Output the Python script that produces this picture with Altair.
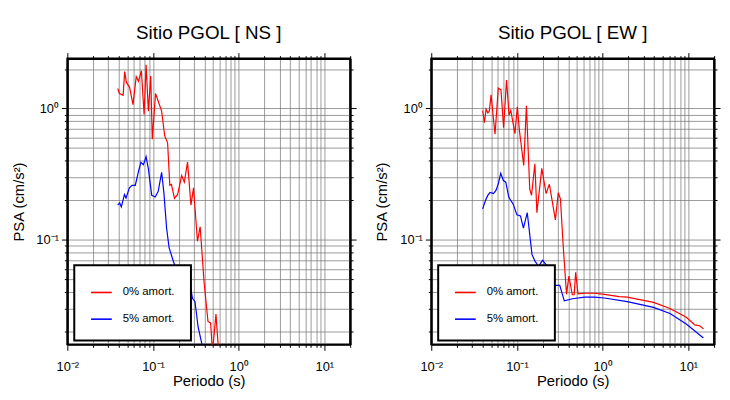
import altair as alt
import pandas as pd

# ---------------- data ----------------
series_names = ["0% amort.", "5% amort."]

ns_t0 = [0.0387, 0.0406, 0.0448, 0.0467, 0.0489, 0.0533, 0.0584, 0.0637, 0.0676, 0.0732,
         0.0787, 0.083, 0.0883, 0.094, 0.0981, 0.107, 0.126, 0.137, 0.148, 0.157,
         0.164, 0.178, 0.194, 0.216, 0.232, 0.253, 0.277, 0.297, 0.330, 0.355,
         0.394, 0.438, 0.470, 0.495, 0.543, 0.593]
ns_a0 = [1.42, 1.30, 1.26, 1.91, 1.58, 1.45, 1.07, 1.75, 1.61, 1.94,
         0.90, 2.15, 0.955, 1.77, 0.584, 1.30, 0.955, 0.618, 0.548, 0.260,
         0.264, 0.207, 0.222, 0.309, 0.275, 0.391, 0.184, 0.249, 0.0975, 0.126,
         0.048, 0.0239, 0.0233, 0.014, 0.0272, 0.012]

ns_t5 = [0.0387, 0.0408, 0.0427, 0.0464, 0.0484, 0.0529, 0.0568, 0.0621, 0.0678, 0.0722,
         0.0773, 0.083, 0.0883, 0.0966, 0.106, 0.115, 0.126, 0.134, 0.144, 0.154,
         0.168, 0.186, 0.216, 0.236, 0.253, 0.289, 0.309, 0.336, 0.371, 0.39]
ns_a5 = [0.184, 0.191, 0.178, 0.221, 0.208, 0.248, 0.260, 0.260, 0.333, 0.389,
         0.374, 0.430, 0.347, 0.218, 0.212, 0.234, 0.327, 0.228, 0.123, 0.0871,
         0.0728, 0.0594, 0.0474, 0.0637, 0.0577, 0.0359, 0.0338, 0.0217, 0.0162, 0.013]

ew_t0 = [0.0398, 0.0418, 0.0436, 0.0457, 0.0476, 0.0499, 0.0555, 0.0606, 0.0651, 0.0699,
         0.0756, 0.0809, 0.0847, 0.0948, 0.101, 0.107, 0.120, 0.129, 0.141, 0.148,
         0.162, 0.171, 0.195, 0.219, 0.239, 0.281, 0.304, 0.322, 0.347, 0.379,
         0.404, 0.443, 0.465, 0.485, 0.516, 0.617, 0.80, 1.05, 1.56, 1.94,
         3.93, 6.11, 9.48, 11.9, 13.5, 15.1]
ew_a0 = [0.966, 0.779, 0.99, 0.927, 0.954, 1.27, 0.637, 1.43, 1.39, 0.714,
         1.65, 0.891, 0.966, 0.644, 1.03, 0.675, 0.368, 1.05, 0.244, 0.218,
         0.380, 0.161, 0.35, 0.225, 0.265, 0.142, 0.229, 0.204, 0.0891, 0.0385,
         0.0529, 0.0382, 0.0382, 0.0567, 0.0388, 0.0392, 0.0392, 0.0385, 0.0370, 0.0366,
         0.0334, 0.0300, 0.0257, 0.0225, 0.0222, 0.0210]

ew_t5 = [0.0398, 0.0430, 0.0457, 0.0485, 0.0532, 0.0569, 0.0606, 0.0646, 0.0695, 0.0741,
         0.0804, 0.0904, 0.100, 0.110, 0.119, 0.132, 0.150, 0.163, 0.179, 0.199,
         0.223, 0.255, 0.278, 0.316, 0.357, 0.446, 0.617, 0.80, 1.05, 1.94,
         3.93, 6.11, 9.48, 15.0]
ew_a5 = [0.172, 0.200, 0.218, 0.230, 0.225, 0.238, 0.267, 0.321, 0.283, 0.275,
         0.211, 0.187, 0.155, 0.152, 0.123, 0.161, 0.0771, 0.0686, 0.0629, 0.0698,
         0.0637, 0.0514, 0.0450, 0.0450, 0.0343, 0.0356, 0.0366, 0.0366, 0.0361, 0.0339,
         0.0306, 0.0275, 0.0229, 0.0179]

x_domain = [0.01, 20]
y_domain = [0.016, 2.4]
x_ticks = [d * k for d in [0.01, 0.1, 1, 10] for k in range(1, 10) if d * k <= 20.0001]
y_ticks = [d * k for d in [0.01, 0.1, 1] for k in range(1, 10) if 0.016 <= d * k <= 2.4]

FONT = "Liberation Sans"
IS_DECADE = "abs(log(datum.value)/LN10 - round(log(datum.value)/LN10)) < 0.001"
EXP = "round(log(datum.value)/LN10)"
LABEL_EXPR = (f"{IS_DECADE} ? '10' + ({EXP} == -2 ? '⁻²' : {EXP} == -1 ? '⁻¹' : "
              f"{EXP} == 0 ? '⁰' : {EXP} == 1 ? '¹' : '') : ''")
TICK_SIZE = {"condition": {"test": IS_DECADE, "value": 6}, "value": 3}


def frame(df, title):
    xs = alt.Scale(type="log", domain=x_domain, nice=False)
    ys = alt.Scale(type="log", domain=y_domain, nice=False)
    base = dict(domain=True, domainColor="black", domainWidth=2,
                tickColor="black", tickWidth=1, tickSize=TICK_SIZE,
                titleFont=FONT, titleFontSize=15, titleFontWeight="normal",
                titleColor="black", gridColor="#6f6f6f", gridWidth=0.7)
    lab = dict(labelFont=FONT, labelFontSize=13, labelColor="black",
               labelOverlap=False, labelFlush=False, labelExpr=LABEL_EXPR)
    lines = alt.Chart(df).mark_line(clip=True, strokeWidth=1.2).encode(
        x=alt.X("T:Q", scale=xs, axis=alt.Axis(values=x_ticks, title="Periodo (s)",
                                               grid=True, labelPadding=10, titlePadding=1,
                                               **base, **lab)),
        y=alt.Y("A:Q", scale=ys, axis=alt.Axis(values=y_ticks, title="PSA (cm/s²)",
                                               grid=True, labelPadding=3, titlePadding=10,
                                               **base, **lab)),
        color=alt.Color("serie:N",
                        scale=alt.Scale(domain=series_names, range=["#ff0000", "#0000ff"]),
                        legend=alt.Legend(title=None, orient="none", legendX=7, legendY=209,
                                          fillColor="white", strokeColor="black",
                                          padding=16, rowPadding=10,
                                          symbolType="stroke", symbolSize=440,
                                          symbolStrokeWidth=1.6, labelOffset=10,
                                          labelFont=FONT, labelFontSize=11.5,
                                          labelColor="black")),
    )
    ghost = alt.Chart(df).mark_line(opacity=0).encode(
        x=alt.X("T:Q", scale=xs, axis=alt.Axis(values=x_ticks, orient="top", title=None,
                                               labels=False, grid=False, **base)),
        y=alt.Y("A:Q", scale=ys, axis=alt.Axis(values=y_ticks, orient="right", title=None,
                                               labels=False, grid=False, **base)),
        detail="serie:N",
    )
    return alt.layer(lines, ghost).resolve_axis(x="independent", y="independent").properties(
        width=286, height=289,
        title=alt.TitleParams(title, font=FONT, fontSize=19, fontWeight="normal",
                              color="black", offset=9),
    )


def to_df(t0, a0, t5, a5):
    return pd.concat([
        pd.DataFrame({"T": t0, "A": a0, "serie": series_names[0]}),
        pd.DataFrame({"T": t5, "A": a5, "serie": series_names[1]}),
    ])


left = frame(to_df(ns_t0, ns_a0, ns_t5, ns_a5), "Sitio PGOL [ NS ]")
right = frame(to_df(ew_t0, ew_a0, ew_t5, ew_a5), "Sitio PGOL [ EW ]")

chart = alt.hconcat(left, right, spacing=16).resolve_scale(color="independent").configure_view(
    stroke="black", strokeWidth=2
).configure_legend(strokeWidth=2).properties(
    background="white", padding={"left": 2, "top": 13, "right": 0, "bottom": 0})

chart.save("out.html", embed_options={"renderer": "svg", "actions": False})
